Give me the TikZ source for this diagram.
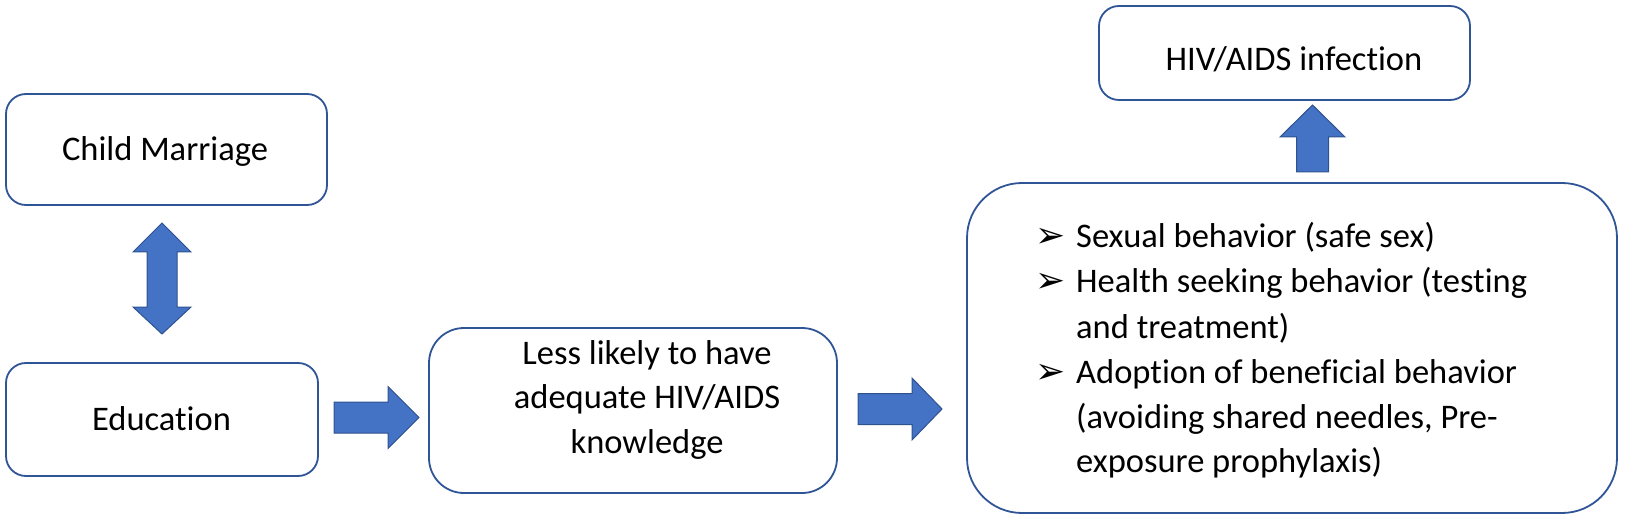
\documentclass[tikz,border=0pt]{standalone}
\usepackage{fontspec}
\setmainfont{Carlito}[Ligatures=NoCommon]
\newfontfamily\symfont{DejaVu Sans}
\usetikzlibrary{calc}
\definecolor{boxblue}{HTML}{2F5597}
\definecolor{arrfill}{HTML}{4472C4}
\definecolor{arrdraw}{HTML}{2F528F}
\tikzset{
  box/.style={draw=boxblue, line width=1.8pt, fill=white, rounded corners=20pt, inner sep=0pt},
  txt/.style={font=\fontsize{34.5}{45}\selectfont, inner sep=0pt, text=black, anchor=base},
  blk/.style={fill=arrfill, draw=arrdraw, line width=1pt, line join=miter},
}
\newcommand{\bul}{\makebox[41pt][l]{\raisebox{0pt}{\symfont\fontsize{36}{36}\selectfont ➢}}}
\newcommand{\itm}{\par\hangindent=41pt\hangafter=1\noindent\bul}
\begin{document}
\begin{tikzpicture}[x=1pt,y=-1pt]
\useasboundingbox (0,0) rectangle (1627,521);
% boxes
\node[box, minimum width=321pt, minimum height=111pt] (cm) at (166.5,149.5) {};
\node[txt] (cmt) at (165,161) {Child Marriage};
\node[box, minimum width=312pt, minimum height=113pt] (edu) at (162,419.5) {};
\node[txt] (edut) at (161.5,430) {Education};
\node[box, rounded corners=35pt, minimum width=408pt, minimum height=165pt] (mid) at (633,410.5) {};
\node[txt] (midt) at (647,364) {\parbox[t]{380pt}{\centering\fontsize{34.5}{44.5}\selectfont Less likely to have\\adequate HIV/AIDS\\knowledge}};
\node[box, rounded corners=55pt, minimum width=650pt, minimum height=330pt] (beh) at (1292,348) {};
\node[txt, anchor=base west] (beht) at (1035,248) {\parbox[t]{560pt}{\raggedright\fontsize{34.5}{45}\selectfont
\itm Sexual behavior (safe sex)
\itm Health seeking behavior (testing\newline and treatment)
\itm Adoption of beneficial behavior\newline (avoiding shared needles, Pre-\newline exposure prophylaxis)}};
\node[box, minimum width=371pt, minimum height=94pt] (hiv) at (1284.5,53) {};
\node[txt] (hivt) at (1294,71) {HIV/AIDS infection};
% block arrows
\coordinate (a1s) at (334,417.5);
\coordinate (a1e) at (419,417.5);
\draw[blk] ($(a1s)+(0,-15.5)$) -- ($(a1e)+(-31,-15.5)$) -- ($(a1e)+(-31,-31)$) -- (a1e)
  -- ($(a1e)+(-31,31)$) -- ($(a1e)+(-31,15.5)$) -- ($(a1s)+(0,15.5)$) -- cycle;
\coordinate (a2s) at (858,409);
\coordinate (a2e) at (942,409);
\draw[blk] ($(a2s)+(0,-15.5)$) -- ($(a2e)+(-30,-15.5)$) -- ($(a2e)+(-30,-31)$) -- (a2e)
  -- ($(a2e)+(-30,31)$) -- ($(a2e)+(-30,15.5)$) -- ($(a2s)+(0,15.5)$) -- cycle;
\coordinate (a3s) at (1312.5,172);
\coordinate (a3e) at (1312.5,105);
\draw[blk] ($(a3s)+(-16,0)$) -- ($(a3e)+(-16,32)$) -- ($(a3e)+(-32.5,32)$) -- (a3e)
  -- ($(a3e)+(32.5,32)$) -- ($(a3e)+(16,32)$) -- ($(a3s)+(16,0)$) -- cycle;
\coordinate (dt) at (162,223);
\coordinate (db) at (162,334);
\draw[blk] (dt) -- ($(dt)+(29,29)$) -- ($(dt)+(15,29)$) -- ($(db)+(15,-27)$) -- ($(db)+(29,-27)$)
  -- (db) -- ($(db)+(-29,-27)$) -- ($(db)+(-15,-27)$) -- ($(dt)+(-15,29)$) -- ($(dt)+(-29,29)$) -- cycle;
\end{tikzpicture}
\end{document}
